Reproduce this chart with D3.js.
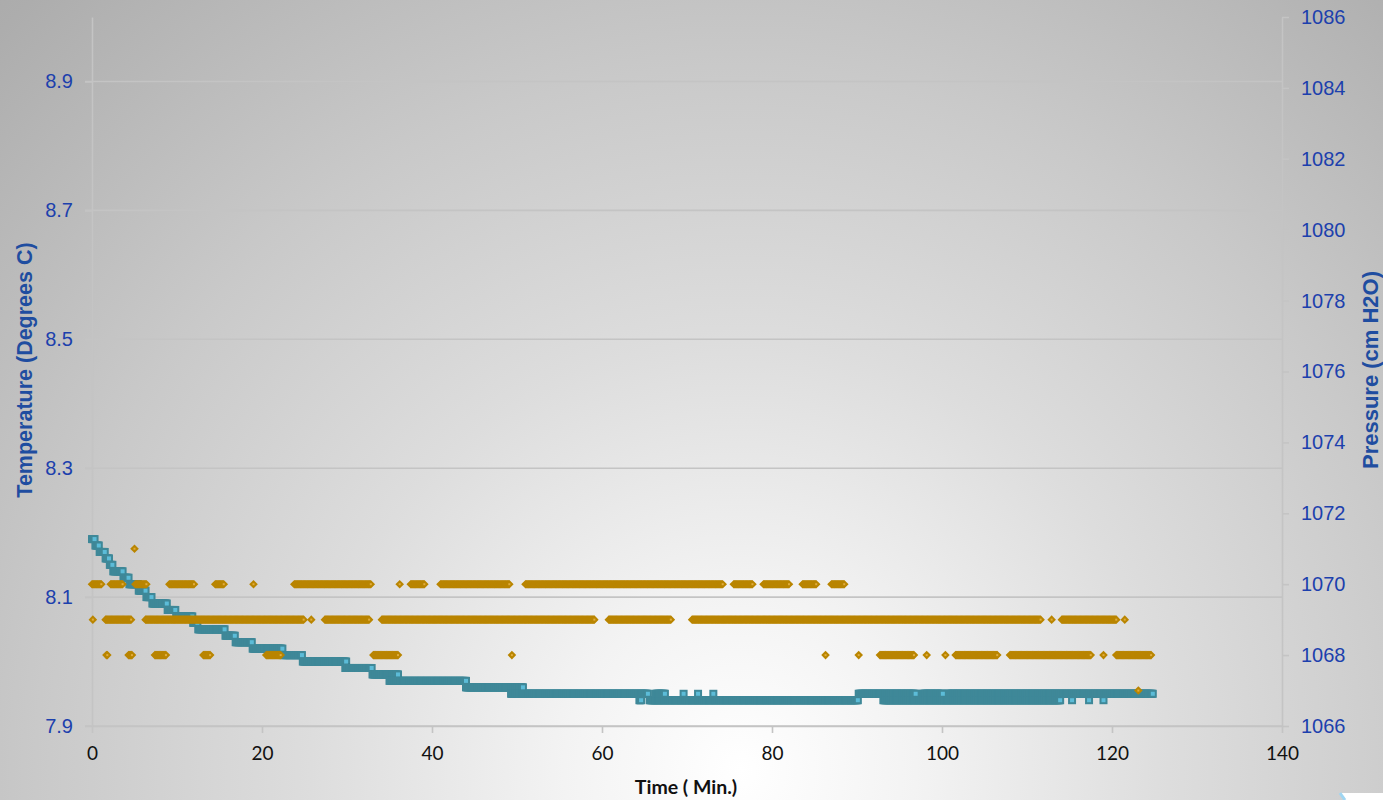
<!DOCTYPE html>
<html>
<head>
<meta charset="utf-8">
<script src="https://cdn.jsdelivr.net/npm/d3@7"></script>
<style>
  html, body { margin: 0; padding: 0; overflow: hidden; background: #fff; }
  svg { display: block; }
</style>
</head>
<body>
<svg id="chart" width="1383" height="800"></svg>
<script>
// Logger readings, one every 0.1 min; runs are [first minute, last minute, reading]
const sampleStep = 0.1;

// Water temperature (°C), left axis
const temperatureRuns = [
  [0.0, 0.3, 8.19], [0.4, 0.8, 8.18], [0.9, 1.5, 8.17], [1.6, 2.0, 8.16],
  [2.1, 2.4, 8.15], [2.5, 3.6, 8.14], [3.7, 4.3, 8.13], [4.4, 5.4, 8.12],
  [5.5, 6.3, 8.11], [6.4, 7.0, 8.10], [7.1, 8.8, 8.09], [8.9, 9.8, 8.08],
  [9.9, 11.8, 8.07], [11.9, 12.4, 8.06], [12.5, 15.6, 8.05], [15.7, 16.8, 8.04],
  [16.9, 18.8, 8.03], [18.9, 22.4, 8.02], [22.5, 24.7, 8.01], [24.8, 29.9, 8.00],
  [29.8, 32.9, 7.99], [33.0, 36.0, 7.98], [35.0, 44.0, 7.97], [44.0, 50.7, 7.96],
  [49.3, 65.4, 7.95], [64.4, 64.6, 7.94], [65.6, 90.1, 7.94],
  [66.3, 67.4, 7.95], [69.6, 69.6, 7.95], [71.3, 71.3, 7.95], [73.1, 73.1, 7.95],
  [90.2, 96.9, 7.95], [97.7, 100.1, 7.95], [100.6, 124.8, 7.95],
  [93.1, 113.9, 7.94], [115.3, 115.3, 7.94], [117.3, 117.3, 7.94], [119.0, 119.0, 7.94]
];

// Pressure (cm H2O), right axis
const pressureRuns = [
  [5.0, 5.0, 1071],
  [0.0, 1.1, 1070], [2.2, 3.6, 1070], [5.1, 6.4, 1070], [9.1, 12.0, 1070],
  [14.5, 15.5, 1070], [19.0, 19.0, 1070], [23.8, 32.8, 1070], [36.2, 36.2, 1070],
  [37.5, 39.1, 1070], [41.0, 49.1, 1070], [51.0, 74.2, 1070], [75.5, 77.7, 1070],
  [79.0, 82.0, 1070], [83.6, 85.2, 1070], [87.0, 88.5, 1070],
  [0.1, 0.1, 1069], [1.6, 4.6, 1069], [6.3, 24.9, 1069], [25.8, 25.8, 1069],
  [27.4, 32.6, 1069], [34.1, 59.1, 1069], [60.8, 68.1, 1069], [70.6, 111.6, 1069],
  [112.9, 112.9, 1069], [114.1, 120.5, 1069], [121.5, 121.5, 1069],
  [1.7, 1.8, 1068], [4.3, 4.7, 1068], [7.4, 8.7, 1068], [13.1, 13.9, 1068],
  [20.5, 22.2, 1068], [33.1, 36.0, 1068], [49.4, 49.4, 1068], [86.3, 86.3, 1068],
  [90.2, 90.2, 1068], [92.7, 96.7, 1068], [98.2, 98.2, 1068], [100.4, 100.4, 1068],
  [101.6, 106.5, 1068], [108.0, 117.5, 1068], [119.0, 119.0, 1068], [120.5, 124.6, 1068],
  [123.1, 123.1, 1067]
];

const timeTicks = [0, 20, 40, 60, 80, 100, 120, 140];
const temperatureTicks = [7.9, 8.1, 8.3, 8.5, 8.7, 8.9];
const pressureTicks = [1066, 1068, 1070, 1072, 1074, 1076, 1078, 1080, 1082, 1084, 1086];

// Turn each run into its individual readings
function expand(runs) {
  const pts = [];
  runs.forEach(([start, end, value]) => {
    const n = Math.round((end - start) / sampleStep);
    for (let i = 0; i <= n; i++) {
      pts.push({ t: +(start + i * sampleStep).toFixed(2), v: value, last: i === n });
    }
  });
  return pts;
}
const temperature = expand(temperatureRuns);
const pressure = expand(pressureRuns);

const W = 1383, H = 800;
const plot = { left: 92, right: 1282, top: 17, bottom: 726 };

const svg = d3.select("#chart");

// Soft radial backdrop
const defs = svg.append("defs");
const grad = defs.append("radialGradient")
  .attr("id", "bg").attr("gradientUnits", "userSpaceOnUse")
  .attr("cx", 740).attr("cy", 770).attr("r", 1100);
[[0, "#ffffff"], [0.16, "#f3f3f3"], [0.39, "#dddddd"], [0.64, "#c9c9c9"],
 [0.74, "#c0c0c0"], [0.95, "#adadad"], [1, "#aaaaaa"]]
  .forEach(([o, c]) => grad.append("stop").attr("offset", o).attr("stop-color", c));
svg.append("rect").attr("width", W).attr("height", H).attr("fill", "url(#bg)");

const x = d3.scaleLinear([0, 140], [plot.left, plot.right]);
const yT = d3.scaleLinear([7.9, 9.0], [plot.bottom, plot.top]);
const yP = d3.scaleLinear([1066, 1086], [plot.bottom, plot.top]);

const lineColor = "#c4c4c4";

// Horizontal gridlines on the temperature ticks
svg.append("g").selectAll("line").data(temperatureTicks).join("line")
  .attr("x1", plot.left - 7).attr("x2", plot.right)
  .attr("y1", d => yT(d)).attr("y2", d => yT(d))
  .attr("stroke", lineColor).attr("stroke-width", 1.6);

function styleAxis(g, color, family, size) {
  g.selectAll(".domain").attr("stroke", lineColor).attr("stroke-width", 1.6);
  g.selectAll(".tick line").attr("stroke", lineColor).attr("stroke-width", 1.6);
  g.selectAll(".tick text").attr("fill", color)
    .attr("font-family", family).attr("font-size", size);
}

// Left axis: temperature
const gL = svg.append("g").attr("transform", `translate(${plot.left},0)`)
  .call(d3.axisLeft(yT).tickValues(temperatureTicks).tickFormat(d3.format(".1f"))
    .tickSize(7).tickSizeOuter(0).tickPadding(12));
styleAxis(gL, "#1c40ad", "'Liberation Sans', Arial, sans-serif", 20);

// Right axis: pressure
const gR = svg.append("g").attr("transform", `translate(${plot.right},0)`)
  .call(d3.axisRight(yP).tickValues(pressureTicks).tickFormat(d3.format("d"))
    .tickSize(7).tickSizeOuter(0).tickPadding(12));
styleAxis(gR, "#1c40ad", "'Liberation Sans', Arial, sans-serif", 20);

// Bottom axis: time
const gB = svg.append("g").attr("transform", `translate(0,${plot.bottom})`)
  .call(d3.axisBottom(x).tickValues(timeTicks).tickFormat(d3.format("d"))
    .tickSize(7).tickSizeOuter(0));
styleAxis(gB, "#111111", "Lato, 'Open Sans', sans-serif", 19);
gB.selectAll(".tick text").attr("y", 27).attr("dy", "0.35em");

// Temperature readings: teal squares
const sq = 8;
const gTemp = svg.append("g");
gTemp.selectAll("rect.m").data(temperature).join("rect").attr("class", "m")
  .attr("x", d => x(d.t) - sq / 2).attr("y", d => yT(d.v) - sq / 2)
  .attr("width", sq).attr("height", sq)
  .attr("fill", "#3f8898");
gTemp.selectAll("rect.c").data(temperature.filter(d => d.last)).join("rect").attr("class", "c")
  .attr("x", d => x(d.t) - 2).attr("y", d => yT(d.v) - 2)
  .attr("width", 4).attr("height", 4)
  .attr("fill", "#5cbcd8");

// Pressure readings: amber diamonds
const diamond = "M0,-4.3L4.3,0L0,4.3L-4.3,0Z";
const gPres = svg.append("g");
gPres.selectAll("path").data(pressure).join("path")
  .attr("d", diamond)
  .attr("transform", d => `translate(${x(d.t)},${yP(d.v)})`)
  .attr("fill", "#b98500");
gPres.selectAll("rect").data(pressure.filter(d => d.last)).join("rect")
  .attr("x", d => x(d.t) - 1).attr("y", d => yP(d.v) - 1)
  .attr("width", 2).attr("height", 2)
  .attr("fill", "#e2ac3c");

// Axis titles
svg.append("text")
  .attr("transform", "translate(25,370) rotate(-90)")
  .attr("text-anchor", "middle").attr("dominant-baseline", "central")
  .attr("font-family", "'Liberation Sans', Arial, sans-serif")
  .attr("font-weight", "bold").attr("font-size", 21.5).attr("fill", "#1f4da0")
  .text("Temperature (Degrees C)");

svg.append("text")
  .attr("transform", "translate(1370,370) rotate(-90)")
  .attr("text-anchor", "middle").attr("dominant-baseline", "central")
  .attr("font-family", "'Liberation Sans', Arial, sans-serif")
  .attr("font-weight", "bold").attr("font-size", 22).attr("fill", "#1f4da0")
  .text("Pressure (cm H2O)");

svg.append("text")
  .attr("x", 686).attr("y", 786)
  .attr("text-anchor", "middle").attr("dominant-baseline", "central")
  .attr("font-family", "Lato, 'Open Sans', sans-serif")
  .attr("font-weight", "bold").attr("font-size", 19.5).attr("fill", "#111111")
  .text("Time ( Min.)");

// Folded page corner
svg.append("polygon")
  .attr("points", "1340,793 1383,793 1383,800 1345,800")
  .attr("fill", "#ffffff");
svg.append("line")
  .attr("x1", 1340).attr("y1", 793).attr("x2", 1345).attr("y2", 800)
  .attr("stroke", "#9fd6f2").attr("stroke-width", 3);
</script>
</body>
</html>
